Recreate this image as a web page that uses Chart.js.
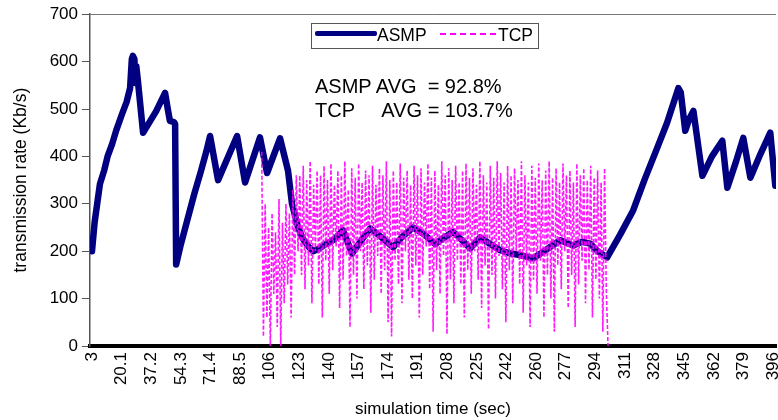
<!DOCTYPE html>
<html>
<head>
<meta charset="utf-8">
<script src="https://cdn.jsdelivr.net/npm/chart.js@4.4.1/dist/chart.umd.min.js"></script>
<style>
  html, body { margin: 0; padding: 0; background: #fff; }
  #wrap { position: relative; width: 778px; height: 420px; font-family: 'Liberation Sans', Arial, sans-serif; color: #000; }
  #c { position: absolute; left: 0; top: 0; }
  .abs { position: absolute; white-space: pre; }
  #legend { left: 311px; top: 23px; width: 226px; height: 24px; border: 1px solid #555; background: #fff; }
  #navy { left: 315px; top: 31px; width: 62px; height: 5px; background: #000080; border-radius: 2px; }
  #dash { left: 440px; top: 33px; width: 56px; height: 1.5px; background: repeating-linear-gradient(to right, #ff00ff 0 6px, transparent 6px 10px); }
  .leg { font-size: 17.5px; line-height: 17.5px; }
  .ann { font-size: 20px; line-height: 20px; }
</style>
</head>
<body>
<div id="wrap">
  <canvas id="c" width="778" height="420"></canvas>
  <div id="legend" class="abs"></div>
  <div id="navy" class="abs"></div>
  <div class="abs leg" style="left:377px; top:27px;">ASMP</div>
  <div id="dash" class="abs"></div>
  <div class="abs leg" style="left:498px; top:27px;">TCP</div>
  <div class="abs ann" style="left:315px; top:76px;">ASMP AVG  = 92.8%</div>
  <div class="abs ann" style="left:315px; top:100px;">TCP     AVG = 103.7%</div>
</div>
<script>
// ---- data ----
const xTickValues = [3, 20.1, 37.2, 54.3, 71.4, 88.5, 105.6, 122.7, 139.8, 156.9, 174, 191.1, 208.2, 225.3, 242.4, 259.5, 276.6, 293.7, 310.8, 327.9, 345, 362.1, 379.2, 396.3];
const xTickLabels = ['3','20.1','37.2','54.3','71.4','88.5','106','123','140','157','174','191','208','225','242','260','277','294','311','328','345','362','379','396'];

const asmpTime = [3,4.5,6,7.6,10,12,14.6,17,20.3,23,25,26,26.6,27.5,28,28.6,29.5,32.5,35,40,45.2,47,48,50.5,51,51.6,54,58,62,66,69,71.2,75.8,86.8,91.4,100,104.1,111.6,116.2,118.5,122,125,128,130.7,134,138,143,148,153.2,158,163.6,170,176.9,182,188.4,195,201.2,206,211.6,217,221.4,227.1,233,238.7,245,250,257.8,262,268,273.4,280.9,286,290.7,295,300.5,308,315.5,322,329.4,335,341.6,343,345.6,348,350.3,355.5,361,367,369.9,375,379.1,383.2,389,394.7,397.6];
const asmpRate = [200,260,300,342,370,400,426,455,489,515,544,605,612,605,555,590,560,450,465,495,534,495,475,472,468,172,210,265,320,370,410,443,350,443,345,440,365,438,370,300,250,225,210,200,205,215,225,244,195,220,248,230,208,230,250,235,215,228,241,222,206,229,215,202,195,192,185,195,210,223,212,220,216,200,187,235,286,350,418,470,544,535,454,480,496,359,400,433,334,390,439,355,405,450,338];

// TCP sampled once per second from t = 101 s
const tcpStart = 101;
const tcpStep = 1;
const tcpRate = [
  410,20,300,60,250,0,280,110,240,40,310,0,260,90,300,130,280,60,330,150,360,200,
  360,150,380,120,350,170,390,90,340,200,
  370,130,360,60,380,180,350,110,385,160,
  340,210,370,80,360,140,390,190,330,40,
  375,150,355,100,385,200,345,120,370,170,
  360,70,380,140,340,190,375,110,360,160,
  390,50,350,20,370,180,345,130,385,90,
  355,200,370,140,340,100,380,170,360,60,
  375,150,345,210,385,120,355,30,370,160,
  340,110,390,190,360,25,375,140,350,90,
  380,180,345,130,370,60,385,160,355,110,
  375,200,340,140,390,80,360,170,345,35,
  380,150,355,100,390,190,365,120,345,50,
  380,160,360,90,375,200,350,130,390,70,
  360,170,345,40,380,140,355,110,385,180,
  350,60,370,150,390,100,355,30,375,170,
  345,120,385,200,360,80,370,150,345,40,
  385,130,360,180,375,90,350,160,380,60,
  355,140,370,100,345,30,375,120,0
];

// ---- build ----
const asmpPts = asmpTime.map((t, i) => ({ x: t, y: asmpRate[i] }));
const tcpPts = tcpRate.map((v, i) => ({ x: tcpStart + i * tcpStep, y: v }));

Chart.defaults.font.family = "'Liberation Sans', Arial, sans-serif";
Chart.defaults.color = '#000';

new Chart(document.getElementById('c'), {
  type: 'line',
  data: {
    datasets: [
      { label: 'ASMP', data: asmpPts, borderColor: '#000080', borderWidth: 6.5, pointRadius: 0,
        tension: 0, borderJoinStyle: 'round', borderCapStyle: 'round', order: 2 },
      { label: 'TCP', data: tcpPts, borderColor: 'rgba(255,0,255,0.9)', borderWidth: 1.6, borderDash: [4, 2],
        pointRadius: 0, tension: 0, order: 1 }
    ]
  },
  options: {
    responsive: false,
    animation: false,
    layout: { padding: { top: 13, right: 2, left: 0, bottom: 0 } },
    plugins: { legend: { display: false }, tooltip: { enabled: false } },
    scales: {
      x: {
        type: 'linear', min: 1.85, max: 398,
        afterBuildTicks: s => { s.ticks = xTickValues.map(v => ({ value: v })); },
        afterFit: s => { s.height = 74; s.paddingLeft = 0; s.paddingRight = 0; },
        ticks: { autoSkip: false, minRotation: 90, maxRotation: 90, padding: 6,
                 font: { size: 17 }, color: '#000',
                 callback: (v, i) => xTickLabels[i] },
        grid: { display: true, drawOnChartArea: false, drawTicks: false },
        border: { color: '#000', width: 4 },
        title: { display: true, text: 'simulation time (sec)', font: { size: 17 }, color: '#000', padding: 0 }
      },
      y: {
        min: 0, max: 700,
        afterFit: s => { s.width = 90; },
        ticks: { stepSize: 100, padding: 4, font: { size: 17 }, color: '#000' },
        grid: { color: ctx => (ctx.tick && ctx.tick.value === 700) ? '#777' : 'rgba(0,0,0,0)',
                tickColor: '#555', tickLength: 8, drawTicks: true },
        border: { color: '#555', width: 1.5 },
        title: { display: true, text: 'transmission rate (Kb/s)', font: { size: 17.5 }, color: '#000', padding: { top: 11, bottom: 0 } }
      }
    }
  }
});
</script>
</body>
</html>
